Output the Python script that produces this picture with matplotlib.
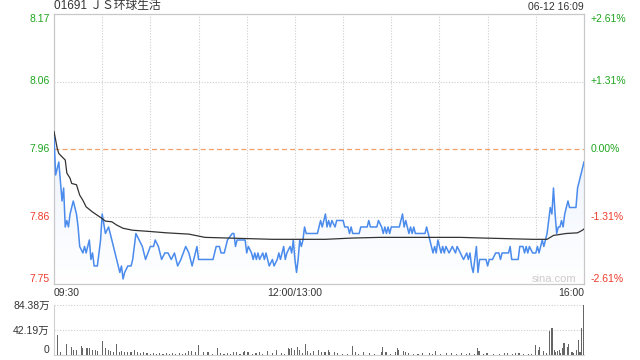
import numpy as np
import matplotlib
matplotlib.use("Agg")
import matplotlib.pyplot as plt
from matplotlib.colors import LinearSegmentedColormap

plt.rcParams['font.family'] = ['Liberation Sans', 'Noto Sans CJK SC', 'DejaVu Sans']

# header
title = "01691 ＪＳ环球生活"
stamp = "06-12 16:09"

# trading minutes from 09:30 (lunch break removed): 0..330
prev_close = 7.96
max_pct = 0.0261
price_labels = ["8.17", "8.06", "7.96", "7.86", "7.75"]
pct_labels = ["+2.61%", "+1.31%", "0.00%", "-1.31%", "-2.61%"]
time_labels = ["09:30", "12:00/13:00", "16:00"]
vol_labels = ["84.38万", "42.19万", "0"]
vol_max = 84.38

price_t = [0, 1, 3, 5, 6, 7, 8, 9, 10, 12, 14, 15, 16, 18, 19, 20, 22, 23, 24, 25,
           27, 29, 30, 32, 34, 36, 38, 40, 41, 42, 43, 44, 46, 48, 49, 51, 53, 55, 57, 60,
           62, 63, 65, 67, 69, 71, 73, 75, 77, 79, 82, 84, 86, 88, 89, 90, 99, 101, 103, 104,
           106, 108, 111, 112, 113, 114, 119, 120, 121, 123, 124, 125, 126, 127, 128, 130, 131, 132, 133, 134,
           136, 137, 139, 140, 141, 143, 144, 145, 147, 148, 149, 150, 151, 152, 153, 154, 155, 156, 157, 164,
           166, 167, 168, 169, 170, 171, 172, 173, 175, 176, 180, 181, 183, 184, 185, 186, 190, 191, 195, 196,
           197, 201, 202, 204, 205, 206, 207, 208, 209, 210, 215, 217, 218, 219, 220, 221, 222, 223, 224, 225,
           231, 232, 234, 235, 236, 237, 238, 239, 240, 241, 242, 243, 244, 246, 248, 250, 251, 253, 255, 257,
           258, 259, 260, 261, 262, 263, 264, 265, 269, 270, 271, 273, 275, 277, 278, 279, 283, 284, 285, 289,
           290, 292, 293, 294, 295, 296, 298, 300, 301, 302, 303, 304, 305, 306, 307, 308, 309, 310, 311, 312,
           313, 314, 315, 316, 317, 318, 319, 320, 321, 325, 326, 327, 328, 329, 330]
price_v = [7.98, 7.92, 7.94, 7.88, 7.90, 7.84, 7.85, 7.84, 7.86, 7.88, 7.86, 7.84, 7.81, 7.80, 7.81, 7.80, 7.82, 7.79, 7.80, 7.78,
           7.78, 7.82, 7.86, 7.83, 7.84, 7.82, 7.80, 7.78, 7.77, 7.78, 7.76, 7.77, 7.78, 7.78, 7.79, 7.83, 7.82, 7.81, 7.79, 7.81,
           7.81, 7.82, 7.81, 7.79, 7.80, 7.80, 7.79, 7.80, 7.78, 7.79, 7.81, 7.80, 7.78, 7.80, 7.81, 7.79, 7.79, 7.81, 7.81, 7.80,
           7.80, 7.82, 7.83, 7.83, 7.81, 7.82, 7.82, 7.80, 7.81, 7.80, 7.79, 7.80, 7.79, 7.80, 7.79, 7.80, 7.79, 7.80, 7.79, 7.78,
           7.79, 7.78, 7.79, 7.80, 7.79, 7.81, 7.79, 7.80, 7.81, 7.80, 7.82, 7.79, 7.77, 7.79, 7.82, 7.81, 7.82, 7.84, 7.83, 7.83,
           7.85, 7.84, 7.85, 7.86, 7.84, 7.85, 7.84, 7.85, 7.84, 7.85, 7.85, 7.84, 7.84, 7.83, 7.84, 7.83, 7.83, 7.84, 7.84, 7.85,
           7.84, 7.84, 7.85, 7.84, 7.83, 7.84, 7.83, 7.84, 7.83, 7.84, 7.84, 7.86, 7.84, 7.85, 7.84, 7.83, 7.84, 7.83, 7.84, 7.83,
           7.83, 7.84, 7.82, 7.81, 7.80, 7.81, 7.80, 7.82, 7.81, 7.80, 7.81, 7.80, 7.81, 7.80, 7.81, 7.80, 7.81, 7.80, 7.79, 7.80,
           7.79, 7.80, 7.78, 7.77, 7.79, 7.81, 7.77, 7.79, 7.79, 7.78, 7.79, 7.79, 7.80, 7.80, 7.79, 7.80, 7.80, 7.81, 7.79, 7.79,
           7.81, 7.81, 7.80, 7.81, 7.80, 7.81, 7.80, 7.80, 7.81, 7.80, 7.81, 7.82, 7.81, 7.82, 7.83, 7.85, 7.87, 7.86, 7.90, 7.86,
           7.83, 7.84, 7.84, 7.85, 7.84, 7.86, 7.87, 7.88, 7.87, 7.87, 7.90, 7.91, 7.92, 7.93, 7.94]

avg_t = [0, 2, 3, 7, 8, 10, 11, 14, 16, 18, 20, 24, 27, 30, 32, 36, 39, 43, 49, 60,
         70, 84, 94, 108, 136, 150, 169, 186, 203, 232, 253, 267, 298, 307, 311, 319, 326, 329, 330]
avg_v = [7.987, 7.961, 7.953, 7.943, 7.923, 7.915, 7.907, 7.905, 7.889, 7.881, 7.871, 7.863, 7.858, 7.853, 7.849, 7.848, 7.843, 7.838, 7.835, 7.833,
         7.831, 7.829, 7.824, 7.823, 7.821, 7.821, 7.821, 7.823, 7.824, 7.824, 7.824, 7.823, 7.821, 7.821, 7.827, 7.830, 7.831, 7.835, 7.837]

# volume, in 万 shares
vol_t = [2, 4, 8, 11, 12, 14, 17, 18, 20, 21, 22, 24, 26, 27, 30, 32, 34, 35, 37, 39,
         41, 42, 44, 46, 48, 50, 52, 54, 56, 58, 60, 62, 64, 66, 68, 70, 72, 74, 76, 78,
         80, 82, 84, 86, 88, 90, 93, 96, 99, 102, 104, 106, 108, 110, 112, 114, 116, 118, 119, 121,
         124, 126, 128, 130, 133, 136, 139, 142, 144, 146, 147, 148, 150, 152, 153, 155, 157, 158, 160, 162,
         165, 167, 169, 171, 172, 175, 177, 180, 183, 186, 188, 190, 193, 197, 200, 204, 205, 207, 210, 213,
         214, 215, 218, 219, 221, 224, 227, 230, 234, 236, 238, 241, 245, 248, 251, 254, 257, 259, 262, 264,
         265, 268, 270, 274, 278, 281, 283, 286, 288, 290, 293, 296, 298, 300, 302, 303, 305, 307, 309, 310,
         311, 312, 313, 314, 315, 316, 317, 318, 320, 321, 323, 324, 326, 327, 328, 329, 330]
vol_v = [33.8, 5.6, 18.6, 14.0, 8.4, 8.4, 15.8, 11.3, 12.4, 11.3, 12.4, 8.4, 8.4, 7.3, 23.6, 11.3, 8.4, 7.3, 5.6, 18.6,
         5.6, 7.3, 5.6, 4.5, 5.6, 8.4, 5.6, 3.9, 5.6, 3.4, 2.5, 3.4, 2.5, 3.4, 2.5, 3.4, 2.5, 3.4, 2.5, 3.4,
         2.5, 3.4, 7.3, 7.3, 5.6, 16.9, 5.6, 5.6, 2.5, 12.4, 3.9, 2.5, 3.9, 2.5, 5.6, 4.5, 2.5, 5.6, 7.3, 5.6,
         2.5, 3.4, 5.6, 2.5, 7.3, 3.4, 8.4, 3.4, 2.5, 12.4, 9.6, 11.3, 8.4, 14.0, 8.4, 3.4, 18.6, 7.3, 3.4, 7.3,
         8.4, 5.6, 5.6, 8.4, 5.6, 5.6, 3.9, 2.5, 2.5, 15.8, 4.5, 2.5, 5.6, 3.9, 2.5, 5.6, 14.0, 5.6, 2.5, 5.6,
         11.3, 8.4, 7.3, 5.6, 3.9, 2.5, 2.5, 3.9, 3.9, 2.5, 6.8, 2.5, 3.9, 3.9, 2.5, 3.9, 2.5, 3.9, 2.5, 11.3,
         7.3, 2.5, 3.9, 2.5, 2.5, 3.9, 3.9, 2.5, 3.9, 3.9, 2.5, 2.5, 2.5, 16.9, 8.4, 14.0, 7.3, 3.4, 40.5, 45.0,
         46.0, 8.4, 5.6, 7.3, 8.4, 3.4, 12.4, 20.8, 14.0, 18.6, 5.6, 3.9, 8.4, 25.3, 5.6, 45.0, 84.38]

green = '#1fa51f'
red = '#ee3a2c'
grid_c = '#cfcfcf'
fs = 7.5

fig = plt.figure(figsize=(6.4, 3.6), dpi=100)
ax = fig.add_axes([54 / 640, 1 - 284 / 360, 530 / 640, 270 / 360])
axv = fig.add_axes([54 / 640, 1 - 355 / 360, 530 / 640, 50 / 360])

ylo = prev_close * (1 - max_pct)
yhi = prev_close * (1 + max_pct)
levels = [prev_close * (1 + max_pct * k) for k in (1, 0.5, 0, -0.5, -1)]

# gradient fill under the price line
fill = ax.fill_between(price_t, price_v, ylo, color='none', lw=0)
cmap = LinearSegmentedColormap.from_list('g', ['#ffffff', '#dce8fb'])
img = ax.imshow(np.linspace(0, 1, 100).reshape(-1, 1), cmap=cmap, aspect='auto',
                extent=[0, 330, ylo, yhi], origin='lower', zorder=1)
img.set_clip_path(fill.get_paths()[0], transform=ax.transData)

ax.plot(price_t, price_v, color='#4a8bec', lw=1.1, zorder=3)
ax.plot(avg_t, avg_v, color='#333333', lw=0.9, zorder=4)

ax.axhline(prev_close, color='#f2a06a', lw=0.9, ls=(0, (4, 2.5)), zorder=2)
for lv in (levels[1], levels[3]):
    ax.axhline(lv, color=grid_c, lw=0.8, ls=(0, (1, 1.5)), zorder=0)
for m in range(30, 330, 30):
    ax.axvline(m, color=grid_c, lw=0.8, ls=(0, (1, 1.5)), zorder=0)

ax.set_xlim(0, 330)
ax.set_ylim(ylo, yhi)
for sp in ax.spines.values():
    sp.set_color('#c8c8c8')
    sp.set_linewidth(0.9)

ax.set_yticks(levels)
ax.set_yticklabels(price_labels)
ax.tick_params(axis='y', length=0, pad=3, labelsize=fs)
cols = [green, green, green, red, red]
vas = ['top', 'center', 'center', 'center', 'bottom']
for lab, c, va in zip(ax.get_yticklabels(), cols, vas):
    lab.set_color(c)
    lab.set_va(va)

axr = ax.twinx()
axr.set_ylim(ylo, yhi)
axr.set_yticks(levels)
axr.set_yticklabels(pct_labels)
axr.tick_params(axis='y', length=0, pad=5, labelsize=fs)
for lab, c, va in zip(axr.get_yticklabels(), cols, vas):
    lab.set_color(c)
    lab.set_va(va)
for sp in axr.spines.values():
    sp.set_visible(False)

ax.set_xticks([0, 150, 330])
ax.set_xticklabels(time_labels)
ax.tick_params(axis='x', length=0, pad=3, labelsize=fs, labelcolor='#333333')
xl = ax.get_xticklabels()
xl[0].set_ha('left')
xl[2].set_ha('right')

ax.text(0.0, 1.008, title, transform=ax.transAxes, ha='left', va='bottom',
        fontsize=8.5, color='#333333')
ax.text(1.0, 1.008, stamp, transform=ax.transAxes, ha='right', va='bottom',
        fontsize=fs, color='#333333')
ax.text(0.985, 0.0, "sina.com", transform=ax.transAxes, ha='right', va='bottom',
        fontsize=8, color='#cccccc', zorder=5)

# volume panel
axv.bar(vol_t, vol_v, width=0.7, color='#666666', zorder=3)
axv.set_xlim(0, 330.5)
axv.set_ylim(0, vol_max)
axv.axhline(vol_max, color=grid_c, lw=0.8, ls=(0, (1, 1.5)), zorder=0, clip_on=False)
axv.axhline(vol_max / 2, color=grid_c, lw=0.8, ls=(0, (1, 1.5)), zorder=0)
axv.set_xticks([])
axv.set_yticks([vol_max, vol_max / 2, 0])
axv.set_yticklabels(vol_labels)
axv.tick_params(axis='y', length=0, pad=3, labelsize=fs, labelcolor='#333333')
axv.get_yticklabels()[2].set_va('bottom')
for s in ('top', 'right'):
    axv.spines[s].set_visible(False)
for s in ('left', 'bottom'):
    axv.spines[s].set_color('#d0d0d0')
    axv.spines[s].set_linewidth(0.8)

fig.savefig("out.png", dpi=100)
